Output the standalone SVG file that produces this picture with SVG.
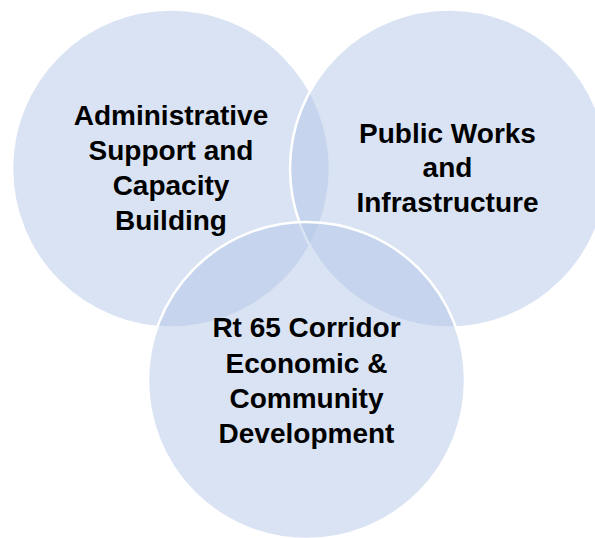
<svg xmlns="http://www.w3.org/2000/svg" width="595" height="538" viewBox="0 0 595 538">
<style>
.c{fill:#B4C7E7;fill-opacity:0.5;stroke:#FFFFFF;stroke-width:2.5}
.t{font-family:"Liberation Sans",Arial,sans-serif;font-weight:bold;font-size:28px;fill:#000000;text-anchor:middle}
</style>
<rect width="595" height="538" fill="#FFFFFF"/>
<g id="admin">
<circle class="c" cx="171" cy="168.5" r="159"/>
</g>
<g id="public">
<circle class="c" cx="449" cy="168.5" r="159"/>
</g>
<g id="rt65">
<circle class="c" cx="306.5" cy="380.5" r="158.5"/>
</g>
<g id="labels">
<text class="t" x="171" y="125">Administrative</text>
<text class="t" x="171" y="160">Support and</text>
<text class="t" x="171" y="195">Capacity</text>
<text class="t" x="171" y="230">Building</text>
<text class="t" x="447.5" y="143">Public Works</text>
<text class="t" x="447.5" y="177">and</text>
<text class="t" x="447.5" y="212">Infrastructure</text>
<text class="t" x="306.5" y="337">Rt 65 Corridor</text>
<text class="t" x="306.5" y="373">Economic &amp;</text>
<text class="t" x="306.5" y="408">Community</text>
<text class="t" x="306.5" y="443">Development</text>
</g>
<g id="connectors"/>
</svg>
